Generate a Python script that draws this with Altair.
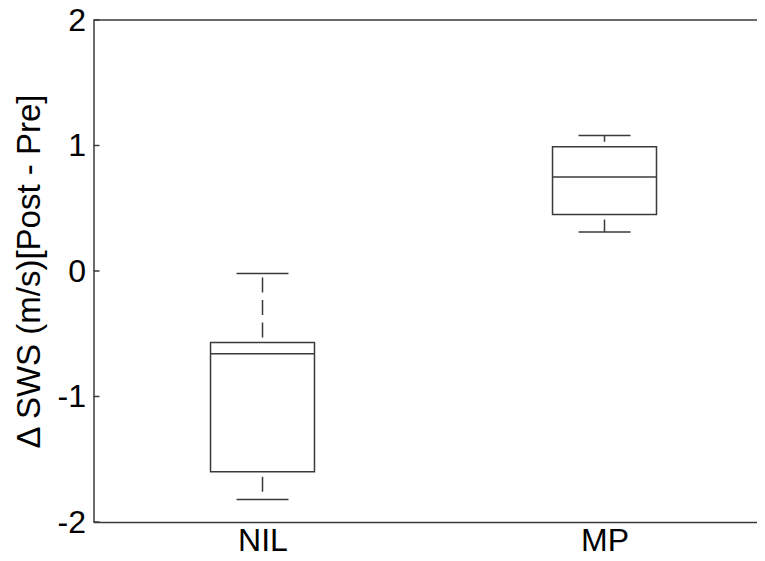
import altair as alt
import pandas as pd

# ---- data ----
groups = ["NIL", "MP"]
whisker_low = [-1.82, 0.31]
q1 = [-1.60, 0.45]
median = [-0.66, 0.75]
q3 = [-0.57, 0.99]
whisker_high = [-0.02, 1.08]
y_ticks = [-2, -1, 0, 1, 2]

df = pd.DataFrame({
    "group": groups,
    "lo": whisker_low,
    "q1": q1,
    "med": median,
    "q3": q3,
    "hi": whisker_high,
})
df["pos"] = list(range(1, len(groups) + 1))
ticks_df = pd.DataFrame({"v": y_ticks})

# ---- layout / style ----
W = 663.5
H = 502
LINE = "#3a3a3a"
FONT = "Liberation Sans"

xscale = alt.Scale(domain=[0.5058, 2.4459], nice=False, zero=False)
yscale = alt.Scale(domain=[-2, 2], nice=False, zero=False)

label_expr = " : ".join(
    f"datum.value == {i + 1} ? '{g}'" for i, g in enumerate(groups)
) + " : ''"

xaxis = alt.Axis(
    values=[1, 2], labelExpr=label_expr, ticks=False, labelFontSize=32,
    labelPadding=3, title="", grid=False, labelFlush=False, labelOverlap=False,
)
yaxis = alt.Axis(
    values=y_ticks, labelExpr="'' + datum.value", tickSize=0,
    labelFontSize=32, labelPadding=8,
    title="\u0394 SWS (m/s)[Post - Pre]", titleFontSize=33,
    titleFontWeight="normal", titleX=-64, titleY=H / 2, titleAngle=270,
    titleBaseline="middle", titleAlign="center", grid=False,
    labelFlush=False, labelOverlap=False,
)


def X(f):
    return alt.X(f, scale=xscale, axis=xaxis)


def Y(f):
    return alt.Y(f, scale=yscale, axis=yaxis)


base = alt.Chart(df).transform_calculate(
    bl="datum.pos - 0.152", br="datum.pos + 0.152",
    cl="datum.pos - 0.076", cr="datum.pos + 0.076",
)

box = base.mark_rect(fill="white", stroke=LINE, strokeWidth=1.5).encode(
    x=X("bl:Q"), x2="br:Q", y=Y("q1:Q"), y2="q3:Q"
)
med = base.mark_rule(color=LINE, strokeWidth=1.5).encode(
    x=X("bl:Q"), x2="br:Q", y=Y("med:Q")
)
up = base.mark_rule(color=LINE, strokeWidth=1.5, strokeDash=[15, 7.5],
                    strokeDashOffset=17.5).encode(
    x=X("pos:Q"), y=Y("q3:Q"), y2="hi:Q"
)
low = base.mark_rule(color=LINE, strokeWidth=1.5, strokeDash=[15, 7.5],
                     strokeDashOffset=17.5).encode(
    x=X("pos:Q"), y=Y("q1:Q"), y2="lo:Q"
)
cap_hi = base.mark_rule(color=LINE, strokeWidth=1.5).encode(
    x=X("cl:Q"), x2="cr:Q", y=Y("hi:Q")
)
cap_lo = base.mark_rule(color=LINE, strokeWidth=1.5).encode(
    x=X("cl:Q"), x2="cr:Q", y=Y("lo:Q")
)
inticks = alt.Chart(ticks_df).mark_rule(color=LINE, strokeWidth=1.5).encode(
    y=Y("v:Q"), x=alt.value(0), x2=alt.value(6)
)
top = alt.Chart(pd.DataFrame({"a": [0]})).mark_rule(color=LINE, strokeWidth=1.5).encode(
    y=alt.value(0), x=alt.value(0), x2=alt.value(W)
)

chart = alt.layer(box, med, up, low, cap_hi, cap_lo, inticks, top).properties(
    width=W, height=H,
    autosize=alt.AutoSizeParams(type="none"),
    padding={"left": 85.5, "top": 12, "right": 0, "bottom": 33},
    background="white",
).configure_axis(
    labelFont=FONT, titleFont=FONT, domainColor=LINE, domainWidth=1.5,
    labelColor="black", titleColor="black",
).configure_view(strokeWidth=0)

chart.save("out.html", embed_options={"renderer": "svg", "actions": False})
